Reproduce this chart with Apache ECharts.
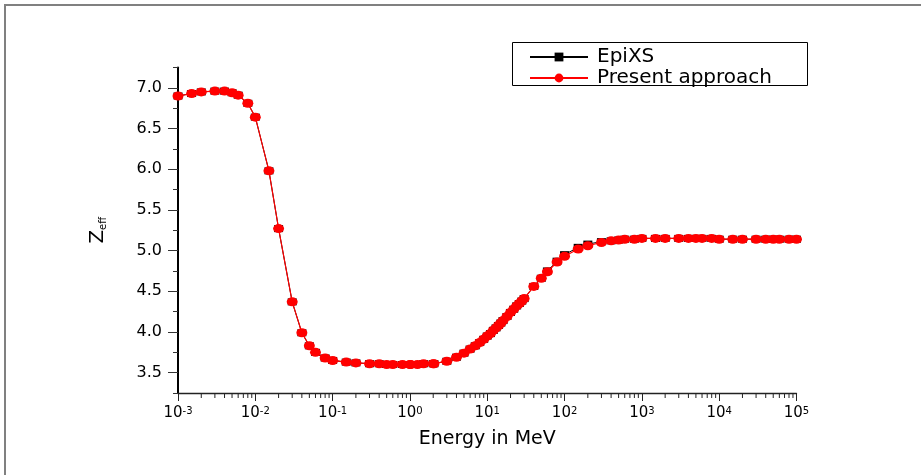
<!DOCTYPE html>
<html>
<head>
<meta charset="utf-8">
<script src="https://cdn.jsdelivr.net/npm/echarts@6/dist/echarts.min.js"></script>
<style>html,body{margin:0;padding:0;background:#fff;}#c{width:921px;height:475px;}</style>
</head>
<body>
<div id="c"></div>
<script>
// Energies in MeV
const energies = [0.001, 0.0015, 0.002, 0.003, 0.004, 0.005, 0.006, 0.008, 0.01, 0.015, 0.02, 0.03, 0.04, 0.05, 0.06, 0.08, 0.1, 0.15, 0.2, 0.3, 0.4, 0.5, 0.6, 0.8, 1, 1.022, 1.25, 1.5, 2, 2.044, 3, 4, 5, 6, 7, 8, 9, 10, 11, 12, 13, 14, 15, 16, 18, 20, 22, 24, 26, 28, 30, 40, 50, 60, 80, 100, 150, 200, 300, 400, 500, 600, 800, 1000, 1500, 2000, 3000, 4000, 5000, 6000, 8000, 10000, 15000, 20000, 30000, 40000, 50000, 60000, 80000, 100000];
// Zeff, EpiXS
const epixs = [6.90, 6.93, 6.95, 6.96, 6.96, 6.94, 6.91, 6.81, 6.64, 5.98, 5.27, 4.37, 3.99, 3.83, 3.75, 3.68, 3.65, 3.63, 3.62, 3.61, 3.61, 3.60, 3.60, 3.60, 3.60, 3.60, 3.60, 3.61, 3.61, 3.61, 3.64, 3.69, 3.74, 3.79, 3.83, 3.87, 3.91, 3.95, 3.98, 4.02, 4.05, 4.08, 4.11, 4.14, 4.19, 4.24, 4.28, 4.32, 4.35, 4.38, 4.41, 4.56, 4.66, 4.75, 4.87, 4.95, 5.04, 5.08, 5.11, 5.12, 5.13, 5.14, 5.14, 5.15, 5.15, 5.15, 5.15, 5.15, 5.15, 5.15, 5.15, 5.14, 5.14, 5.14, 5.14, 5.14, 5.14, 5.14, 5.14, 5.14];
// Zeff, present approach
const present = [6.90, 6.93, 6.95, 6.96, 6.96, 6.94, 6.91, 6.81, 6.64, 5.98, 5.27, 4.37, 3.99, 3.83, 3.75, 3.68, 3.65, 3.63, 3.62, 3.61, 3.61, 3.60, 3.60, 3.60, 3.60, 3.60, 3.60, 3.61, 3.61, 3.61, 3.64, 3.69, 3.74, 3.79, 3.83, 3.87, 3.91, 3.95, 3.98, 4.02, 4.05, 4.08, 4.11, 4.14, 4.19, 4.24, 4.28, 4.32, 4.35, 4.38, 4.41, 4.56, 4.66, 4.74, 4.86, 4.93, 5.02, 5.06, 5.10, 5.12, 5.13, 5.14, 5.14, 5.15, 5.15, 5.15, 5.15, 5.15, 5.15, 5.15, 5.15, 5.14, 5.14, 5.14, 5.14, 5.14, 5.14, 5.14, 5.14, 5.14];
const yMajorTicks = [3.5, 4.0, 4.5, 5.0, 5.5, 6.0, 6.5, 7.0];
const yMinorTicks = [3.25, 3.75, 4.25, 4.75, 5.25, 5.75, 6.25, 6.75, 7.25];
const xDecades = [-3, -2, -1, 0, 1, 2, 3, 4];
const xMinorMultipliers = [2, 3, 4, 5, 6, 7, 8, 9];
const seriesNames = ['EpiXS', 'Present approach'];

const Y_MIN = 3.25, Y_MAX = 7.25;
const xMinorTicks = [];
xDecades.forEach(d => xMinorMultipliers.forEach(m => xMinorTicks.push([m * Math.pow(10, d), Y_MIN])));

const FONT = 'DejaVu Sans';
const chart = echarts.init(document.getElementById('c'), null, {renderer: 'canvas'});
chart.setOption({
  animation: false,
  backgroundColor: '#fff',
  textStyle: {fontFamily: FONT, color: '#000'},
  graphic: [
    {type: 'rect', shape: {x: 5, y: 5, width: 940, height: 500}, style: {fill: 'none', stroke: '#808080', lineWidth: 2}, silent: true},
    {type: 'rect', shape: {x: 512.5, y: 42.5, width: 295, height: 43}, style: {fill: 'none', stroke: '#000', lineWidth: 1}, silent: true}
  ],
  grid: {left: 178, right: 124.5, top: 67.5, bottom: 82, containLabel: false},
  legend: {
    data: seriesNames,
    orient: 'vertical',
    left: 529, top: 47,
    padding: 0,
    itemGap: 1,
    itemWidth: 58, itemHeight: 11,
    textStyle: {fontFamily: FONT, fontSize: 20, color: '#000', padding: [0, 0, 0, 4]}
  },
  xAxis: {
    type: 'log', logBase: 10, min: 0.001, max: 100000, interval: 1,
    name: 'Energy in MeV', nameLocation: 'middle', nameGap: 37,
    nameTextStyle: {fontFamily: FONT, fontSize: 19, color: '#000'},
    axisLine: {show: true, onZero: false, lineStyle: {color: '#222', width: 1.3}},
    axisTick: {show: true, inside: false, length: 8, lineStyle: {color: '#222', width: 1}},
    axisLabel: {
      margin: 13,
      formatter: v => '{b|10}{s|' + Math.round(Math.log10(v)) + '}',
      rich: {
        b: {fontFamily: FONT, fontSize: 15, lineHeight: 15, color: '#000'},
        s: {fontFamily: FONT, fontSize: 10, lineHeight: 5, verticalAlign: 'top', color: '#000'}
      }
    },
    splitLine: {show: false}
  },
  yAxis: [{
    type: 'value', min: Y_MIN, max: Y_MAX, position: 'left',
    name: '{z|Z}{s|eff}', nameLocation: 'middle', nameRotate: 90, nameGap: 70,
    nameTextStyle: {
      rich: {
        z: {fontFamily: FONT, fontSize: 20, lineHeight: 20, color: '#000'},
        s: {fontFamily: FONT, fontSize: 10, lineHeight: 8, verticalAlign: 'bottom', color: '#000'}
      }
    },
    axisLine: {show: true, onZero: false, lineStyle: {color: '#000', width: 2}},
    axisTick: {show: true, length: 10, customValues: yMajorTicks, lineStyle: {color: '#333', width: 1}},
    axisLabel: {margin: 16, customValues: yMajorTicks, formatter: v => v.toFixed(1), fontFamily: FONT, fontSize: 16, color: '#000'},
    splitLine: {show: false}
  }, {
    type: 'value', min: Y_MIN, max: Y_MAX, position: 'left',
    axisLine: {show: false},
    axisTick: {show: true, length: 5, customValues: yMinorTicks, lineStyle: {color: '#333', width: 1}},
    axisLabel: {show: false},
    splitLine: {show: false}
  }],
  series: [{
    name: seriesNames[0], type: 'line',
    data: energies.map((e, i) => [e, epixs[i]]),
    symbol: 'rect', symbolSize: [9, 7],
    itemStyle: {color: '#000'},
    lineStyle: {color: '#000', width: 1},
    z: 2
  }, {
    name: seriesNames[1], type: 'line',
    data: energies.map((e, i) => [e, present[i]]),
    symbol: 'circle', symbolSize: [11, 9],
    itemStyle: {color: '#ff0000'},
    lineStyle: {color: '#ff0000', width: 1.2},
    z: 3
  }, {
    name: 'xMinorTicks', type: 'custom', silent: true, clip: false,
    data: xMinorTicks,
    renderItem: (params, api) => {
      const p = api.coord([api.value(0), Y_MIN]);
      return {type: 'line', shape: {x1: p[0], y1: p[1], x2: p[0], y2: p[1] + 5}, style: {stroke: '#222', lineWidth: 1}};
    },
    z: 1
  }]
});
</script>
</body>
</html>
